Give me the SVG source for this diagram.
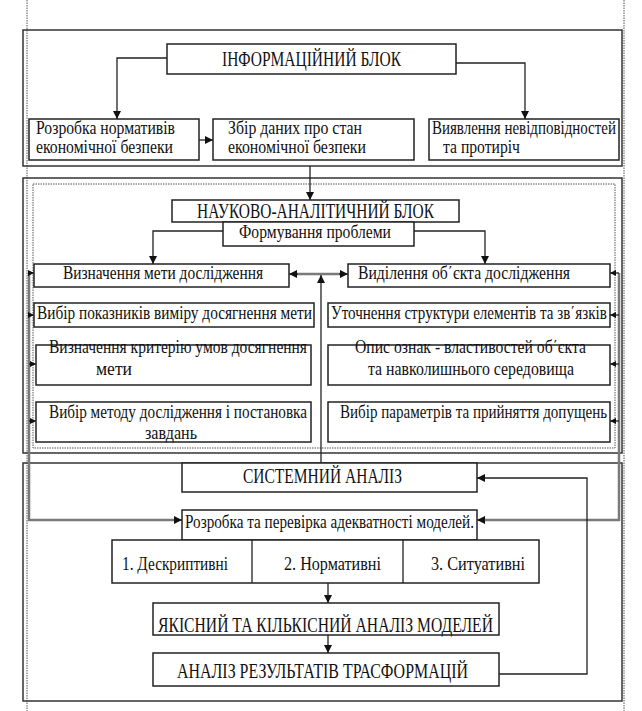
<svg xmlns="http://www.w3.org/2000/svg" width="642" height="711" viewBox="0 0 642 711">
<style>
.frame{fill:none;stroke:#333;stroke-width:1.5}
.dot{fill:none;stroke:#555;stroke-width:1;stroke-dasharray:1.5 1}
.box{fill:#fff;stroke:#222;stroke-width:1.5}
.ln{fill:none;stroke:#222;stroke-width:1.3}
.gr{fill:none;stroke:#7a7a7a;stroke-width:2.5}
.t{font-family:'Liberation Serif','DejaVu Serif',serif;font-size:18px;fill:#111}
.c{font-size:20px}
</style>
<defs>
<marker id="a" viewBox="0 0 10 10" refX="10" refY="5" markerWidth="8" markerHeight="8" markerUnits="userSpaceOnUse" orient="auto"><path d="M0,0L10,5L0,10z" fill="#111"/></marker>
<marker id="as" viewBox="0 0 10 10" refX="10" refY="5" markerWidth="6" markerHeight="6" markerUnits="userSpaceOnUse" orient="auto"><path d="M0,0L10,5L0,10z" fill="#111"/></marker>
</defs>

<g id="page">
<line class="dot" x1="27" y1="0" x2="27" y2="711"/>
<line class="dot" x1="624" y1="0" x2="624" y2="711"/>
</g>

<g id="frames">
<rect class="frame" x="23" y="30" width="599" height="136"/>
<rect class="frame" x="23" y="178" width="599" height="275"/>
<rect class="dot" x="33" y="184" width="582" height="264"/>
<rect class="frame" x="23" y="463" width="599" height="238"/>
</g>

<g id="connectors">
<polyline class="ln" points="167,58 117,58 117,119" marker-end="url(#a)"/>
<polyline class="ln" points="456,63 525,63 525,119" marker-end="url(#a)"/>
<line class="ln" x1="199" y1="140" x2="213" y2="140" marker-end="url(#a)"/>
<line class="ln" x1="310" y1="166" x2="310" y2="200" marker-end="url(#a)"/>
<polyline class="ln" points="223,231 153,231 153,264" marker-end="url(#a)"/>
<polyline class="ln" points="414,231 485,231 485,264" marker-end="url(#a)"/>
<line class="gr" x1="297" y1="274" x2="340" y2="274"/>
<line class="ln" x1="298" y1="274" x2="289" y2="274" marker-end="url(#a)"/>
<line class="ln" x1="339" y1="274" x2="348" y2="274" marker-end="url(#a)"/>
<line class="ln" x1="321" y1="463" x2="321" y2="275" marker-end="url(#a)"/>
<polyline class="gr" points="29,273 29,520 175,520"/>
<line class="ln" x1="174" y1="520" x2="182" y2="520" marker-end="url(#a)"/>
<line class="ln" x1="29" y1="273" x2="34" y2="273" marker-end="url(#as)"/>
<line class="ln" x1="29" y1="315" x2="34" y2="315" marker-end="url(#as)"/>
<line class="ln" x1="29" y1="364" x2="36" y2="364" marker-end="url(#as)"/>
<line class="ln" x1="29" y1="421" x2="36" y2="421" marker-end="url(#as)"/>
<polyline class="gr" points="619,273 619,520 484,520"/>
<line class="ln" x1="485" y1="520" x2="477" y2="520" marker-end="url(#a)"/>
<line class="ln" x1="619" y1="273" x2="610" y2="273" marker-end="url(#as)"/>
<line class="ln" x1="619" y1="315" x2="610" y2="315" marker-end="url(#as)"/>
<line class="ln" x1="619" y1="364" x2="610" y2="364" marker-end="url(#as)"/>
<line class="ln" x1="619" y1="421" x2="610" y2="421" marker-end="url(#as)"/>
<polyline class="ln" points="499,674 587,674 587,478 477,478" marker-end="url(#a)"/>
<line class="ln" x1="328" y1="583" x2="328" y2="603" marker-end="url(#a)"/>
<line class="ln" x1="328" y1="635" x2="328" y2="653" marker-end="url(#a)"/>
</g>

<g id="info-block">
<rect class="box" x="167" y="44" width="289" height="30"/>
<text class="t c" x="222" y="66" textLength="179" lengthAdjust="spacingAndGlyphs">ІНФОРМАЦІЙНИЙ БЛОК</text>
</g>
<g id="rozrobka-normatyviv">
<rect class="box" x="29" y="119" width="170" height="41"/>
<text class="t" x="36" y="134" textLength="139" lengthAdjust="spacingAndGlyphs">Розробка нормативів</text>
<text class="t" x="36" y="153" textLength="137" lengthAdjust="spacingAndGlyphs">економічної безпеки</text>
</g>
<g id="zbir-danykh">
<rect class="box" x="213" y="119" width="201" height="41"/>
<text class="t" x="228" y="134" textLength="134" lengthAdjust="spacingAndGlyphs">Збір даних про стан</text>
<text class="t" x="228" y="153" textLength="138" lengthAdjust="spacingAndGlyphs">економічної безпеки</text>
</g>
<g id="vyyavlennya">
<rect class="box" x="429" y="119" width="190" height="41"/>
<text class="t" transform="translate(432,134) scale(0.836,1)" x="0" y="0" textLength="220" lengthAdjust="spacingAndGlyphs">Виявлення невідповідностей</text>
<text class="t" x="443" y="153" textLength="77" lengthAdjust="spacingAndGlyphs">та протиріч</text>
</g>

<g id="nauk-block">
<rect class="box" x="172" y="200" width="287" height="22"/>
<text class="t c" x="197" y="218" textLength="237" lengthAdjust="spacingAndGlyphs">НАУКОВО-АНАЛІТИЧНИЙ БЛОК</text>
</g>
<g id="formuvannya">
<rect class="box" x="223" y="222" width="191" height="24"/>
<text class="t" x="239" y="238" textLength="152" lengthAdjust="spacingAndGlyphs">Формування проблеми</text>
</g>
<g id="meta">
<rect class="box" x="34" y="264" width="255" height="23"/>
<text class="t" x="63" y="279" textLength="200" lengthAdjust="spacingAndGlyphs">Визначення мети дослідження</text>
</g>
<g id="obyekt">
<rect class="box" x="348" y="264" width="262" height="23"/>
<text class="t" x="358" y="279" textLength="212" lengthAdjust="spacingAndGlyphs">Виділення об΄єкта дослідження</text>
</g>
<g id="pokaznyky">
<rect class="box" x="34" y="303" width="280" height="24"/>
<text class="t" transform="translate(37,319) scale(0.846,1)" x="0" y="0" textLength="325" lengthAdjust="spacingAndGlyphs">Вибір показників виміру досягнення мети</text>
</g>
<g id="struktura">
<rect class="box" x="328" y="303" width="282" height="24"/>
<text class="t" transform="translate(331,319) scale(0.841,1)" x="0" y="0" textLength="328" lengthAdjust="spacingAndGlyphs">Уточнення структури елементів та зв΄язків</text>
</g>
<g id="kryteriy">
<rect class="box" x="36" y="345" width="275" height="40"/>
<text class="t" x="49" y="353" textLength="258" lengthAdjust="spacingAndGlyphs">Визначення критерію  умов досягнення</text>
<text class="t" x="96" y="375" textLength="36" lengthAdjust="spacingAndGlyphs">мети</text>
</g>
<g id="oznaky">
<rect class="box" x="328" y="345" width="282" height="40"/>
<text class="t" x="355" y="353" textLength="231" lengthAdjust="spacingAndGlyphs">Опис ознак - властивостей об΄єкта</text>
<text class="t" x="368" y="375" textLength="206" lengthAdjust="spacingAndGlyphs">та навколишнього середовища</text>
</g>
<g id="metod">
<rect class="box" x="36" y="402" width="275" height="40"/>
<text class="t" x="49" y="418" textLength="258" lengthAdjust="spacingAndGlyphs">Вибір методу дослідження і постановка</text>
<text class="t" x="145" y="439" textLength="52" lengthAdjust="spacingAndGlyphs">завдань</text>
</g>
<g id="parametry">
<rect class="box" x="328" y="402" width="282" height="40"/>
<text class="t" transform="translate(340,418) scale(0.84,1)" x="0" y="0" textLength="318" lengthAdjust="spacingAndGlyphs">Вибір параметрів та прийняття допущень</text>
</g>

<g id="systemnyi">
<rect class="box" x="182" y="463" width="295" height="29"/>
<text class="t c" x="243" y="483" textLength="159" lengthAdjust="spacingAndGlyphs">СИСТЕМНИЙ АНАЛІЗ</text>
</g>
<g id="modeli">
<rect class="box" x="182" y="510" width="295" height="30"/>
<text class="t" x="185" y="528" textLength="289" lengthAdjust="spacingAndGlyphs">Розробка та перевірка адекватності моделей.</text>
</g>
<g id="typy">
<rect class="box" x="112" y="540" width="427" height="43"/>
<line class="ln" x1="252" y1="540" x2="252" y2="583"/>
<line class="ln" x1="403" y1="540" x2="403" y2="583"/>
<text class="t" x="122" y="570" textLength="106" lengthAdjust="spacingAndGlyphs">1. Дескриптивні</text>
<text class="t" x="284" y="570" textLength="97" lengthAdjust="spacingAndGlyphs">2. Нормативні</text>
<text class="t" x="431" y="570" textLength="94" lengthAdjust="spacingAndGlyphs">3. Ситуативні</text>
</g>
<g id="yakisnyi">
<rect class="box" x="153" y="603" width="346" height="32"/>
<text class="t c" x="158" y="632" textLength="335" lengthAdjust="spacingAndGlyphs">ЯКІСНИЙ ТА КІЛЬКІСНИЙ АНАЛІЗ МОДЕЛЕЙ</text>
</g>
<g id="rezultaty">
<rect class="box" x="153" y="653" width="346" height="33"/>
<text class="t c" x="177" y="678" textLength="291" lengthAdjust="spacingAndGlyphs">АНАЛІЗ РЕЗУЛЬТАТІВ ТРАСФОРМАЦІЙ</text>
</g>
</svg>
